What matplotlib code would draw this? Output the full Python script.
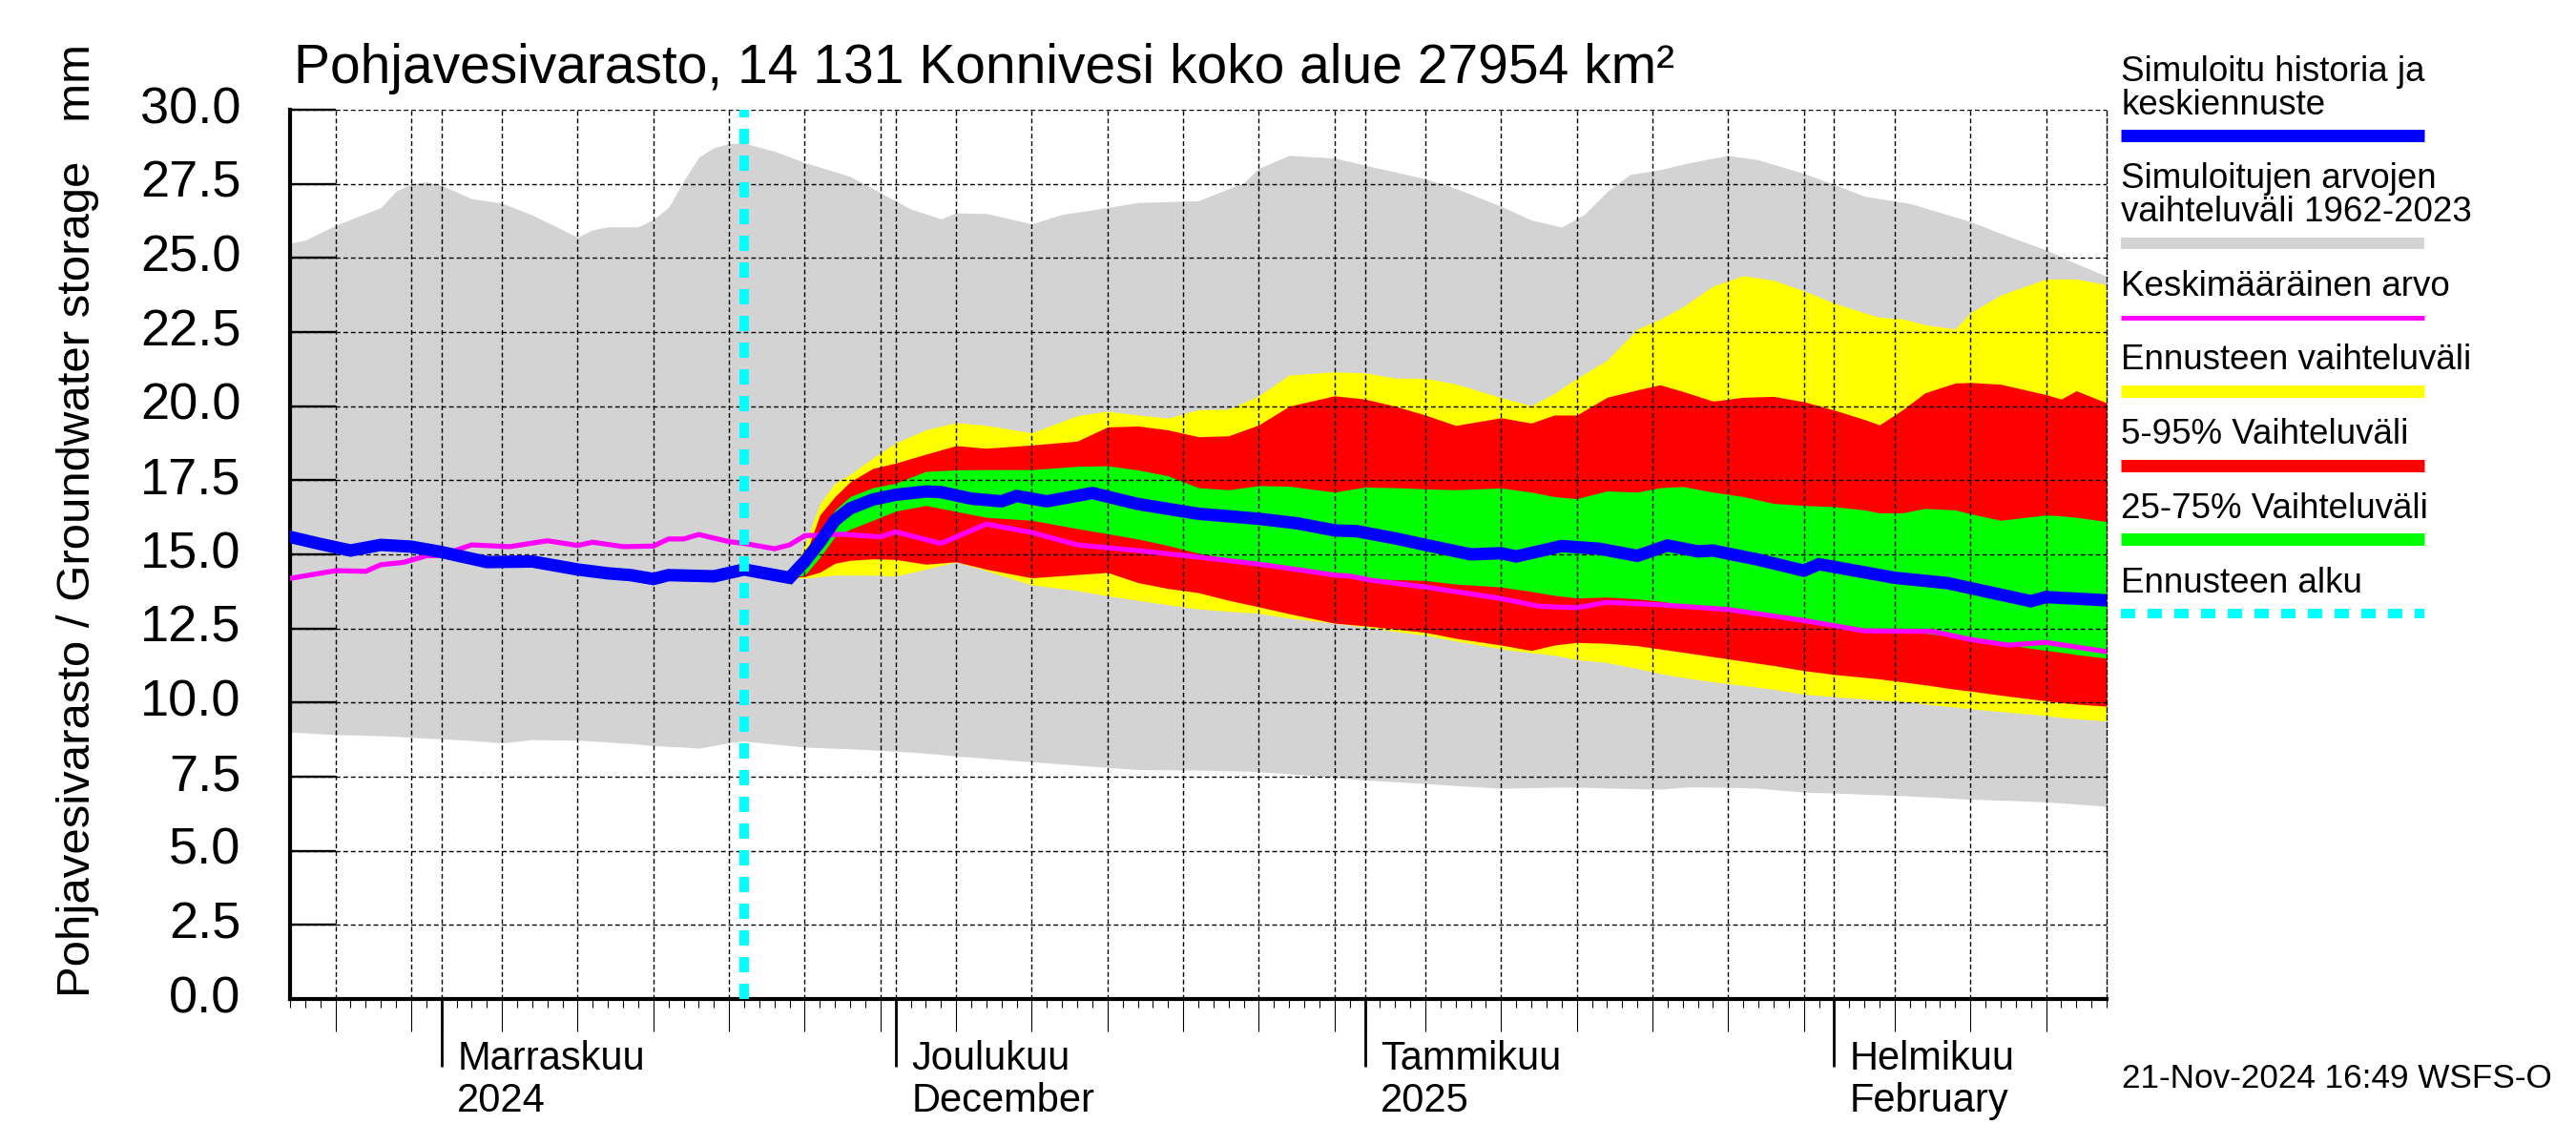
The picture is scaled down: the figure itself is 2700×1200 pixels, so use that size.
import numpy as np
import matplotlib
matplotlib.use('Agg')
import matplotlib.pyplot as plt
import matplotlib.dates as mdates
import matplotlib.transforms as mtransforms
from matplotlib.lines import Line2D
import datetime as dt

plt.rcParams['font.family'] = ['Liberation Sans', 'DejaVu Sans']

# x values are days counted from 22.10.2024
START = dt.date(2024, 10, 22)
LAST_DAY = 120
FORECAST_START = 30  # 21.11.2024

# simuloitujen arvojen vaihteluväli 1962-2023 (grey band)
range_days = [0, 1, 3, 5, 6, 7, 8, 9, 10, 12, 14, 16, 19, 20, 21, 23, 24, 25, 26, 27,
              28, 29, 30, 32, 34, 37, 39, 41, 43, 44, 46, 49, 51, 53, 56, 60, 63, 64, 66, 69,
              71, 75, 77, 80, 82, 84, 85.5, 87, 88.5, 90.5, 92.5, 95, 97, 100, 102, 104, 107, 111, 113.5, 116,
              118, 120]
range_hi = [25.5, 25.6, 26.1, 26.5, 26.7, 27.25, 27.5, 27.57, 27.45, 27.0, 26.85, 26.45, 25.7, 25.95, 26.05, 26.05, 26.3, 26.7, 27.6, 28.4,
            28.72, 28.86, 28.87, 28.6, 28.22, 27.75, 27.2, 26.65, 26.32, 26.52, 26.5, 26.15, 26.47, 26.62, 26.87, 26.93, 27.54, 28.03, 28.46, 28.37,
            28.13, 27.67, 27.35, 26.74, 26.28, 26.04, 26.47, 27.24, 27.81, 27.98, 28.22, 28.46, 28.31, 27.85, 27.48, 27.08, 26.84, 26.23, 25.73, 25.27,
            24.81, 24.38]
range_lo = [9.0, 8.98, 8.92, 8.9, 8.88, 8.86, 8.83, 8.8, 8.78, 8.72, 8.64, 8.75, 8.73, 8.7, 8.67, 8.6, 8.55, 8.52, 8.5, 8.46,
            8.55, 8.65, 8.7, 8.6, 8.5, 8.44, 8.39, 8.33, 8.25, 8.2, 8.12, 8.0, 7.93, 7.85, 7.74, 7.72, 7.69, 7.67, 7.6, 7.47,
            7.39, 7.27, 7.2, 7.11, 7.13, 7.15, 7.14, 7.12, 7.1, 7.08, 7.16, 7.14, 7.11, 6.98, 6.95, 6.91, 6.85, 6.74, 6.7, 6.65,
            6.58, 6.5]

# simuloitu historia ja keskiennuste (blue)
hist_days = [0, 2, 4, 6, 8, 10, 13, 16, 19, 21, 22.5, 24, 25, 28, 30, 33, 34, 35, 36, 37,
             38.5, 40, 42, 43, 45, 47, 48, 50, 53, 56, 60, 64, 66.5, 69, 70.5, 73, 75, 78, 80, 81,
             84, 86.5, 89, 91, 93, 94, 97, 100, 101, 106, 109.5, 115, 116, 120]
hist_val = [15.59, 15.35, 15.13, 15.32, 15.26, 15.08, 14.74, 14.76, 14.49, 14.36, 14.3, 14.17, 14.3, 14.26, 14.49, 14.21, 14.76, 15.41, 16.15, 16.55,
            16.85, 17.01, 17.12, 17.1, 16.88, 16.79, 16.97, 16.79, 17.07, 16.7, 16.37, 16.2, 16.05, 15.81, 15.78, 15.54, 15.32, 15.0, 15.04, 14.93,
            15.28, 15.19, 14.95, 15.3, 15.1, 15.13, 14.82, 14.45, 14.67, 14.21, 14.03, 13.42, 13.56, 13.45]

# keskimääräinen arvo (magenta)
mean_days = [0, 3, 5, 6, 7.5, 9, 10, 12, 14.5, 17, 19, 20, 22, 24, 25, 26, 27, 29, 30, 32,
             33, 34, 36.5, 39, 40, 43, 46, 49, 52, 56, 60, 64, 66.5, 69, 70, 71.5, 75, 80, 82.5, 85,
             87, 90.5, 95, 100, 104, 108.5, 111, 113.5, 116, 120]
mean_val = [14.19, 14.45, 14.43, 14.65, 14.73, 14.95, 14.97, 15.32, 15.26, 15.46, 15.3, 15.41, 15.26, 15.28, 15.52, 15.52, 15.67, 15.43, 15.37, 15.19,
            15.32, 15.63, 15.68, 15.59, 15.76, 15.37, 16.02, 15.74, 15.32, 15.13, 14.91, 14.67, 14.49, 14.3, 14.27, 14.12, 13.9, 13.51, 13.25, 13.2,
            13.38, 13.3, 13.14, 12.77, 12.42, 12.4, 12.13, 11.94, 12.03, 11.72]

# ennusteen vaihteluvälit
fc_days = [33, 34, 35, 36, 37, 38.5, 40, 42, 44, 46, 49, 52, 54, 56, 58, 60, 62, 64, 66, 69,
           71, 73, 75, 77, 80, 82, 83.5, 85, 87, 89, 90.5, 92, 94, 96, 98, 100, 102, 104, 105, 106.5,
           108, 110, 111, 113, 116, 117, 118, 120]
fc_max = [14.21, 15.3, 16.7, 17.4, 17.7, 18.25, 18.76, 19.2, 19.45, 19.35, 19.1, 19.68, 19.83, 19.7, 19.6, 19.88, 19.9, 20.35, 21.05, 21.16,
          21.12, 20.95, 20.94, 20.75, 20.29, 20.02, 20.42, 20.94, 21.55, 22.6, 22.93, 23.35, 24.05, 24.4, 24.25, 23.89, 23.48, 23.15, 23.0, 22.95,
          22.75, 22.6, 23.15, 23.75, 24.29, 24.29, 24.29, 24.1]
fc_p95 = [14.21, 14.9, 16.33, 16.95, 17.45, 17.9, 18.08, 18.38, 18.67, 18.58, 18.69, 18.82, 19.3, 19.33, 19.2, 18.97, 19.0, 19.37, 20.0, 20.35,
          20.24, 20.0, 19.7, 19.35, 19.61, 19.43, 19.7, 19.7, 20.3, 20.55, 20.72, 20.5, 20.17, 20.3, 20.33, 20.15, 19.87, 19.55, 19.37, 19.87,
          20.45, 20.78, 20.8, 20.74, 20.39, 20.24, 20.52, 20.11]
fc_p75 = [14.21, 14.6, 15.7, 16.5, 16.95, 17.25, 17.4, 17.8, 17.85, 17.86, 17.86, 17.97, 17.99, 17.85, 17.65, 17.25, 17.18, 17.32, 17.3, 17.1,
          17.27, 17.25, 17.21, 17.18, 17.24, 17.1, 16.95, 16.88, 17.14, 17.1, 17.25, 17.29, 17.1, 16.95, 16.72, 16.65, 16.61, 16.5, 16.4, 16.4,
          16.55, 16.5, 16.37, 16.15, 16.33, 16.3, 16.25, 16.11]
fc_p25 = [14.21, 14.3, 14.9, 15.6, 15.85, 16.15, 16.46, 16.65, 16.45, 16.25, 16.15, 15.87, 15.7, 15.52, 15.3, 15.04, 14.85, 14.67, 14.5, 14.3,
          14.17, 14.15, 14.12, 14.0, 13.9, 13.75, 13.62, 13.53, 13.56, 13.5, 13.42, 13.3, 13.18, 13.0, 12.88, 12.74, 12.6, 12.48, 12.42, 12.36,
          12.34, 12.22, 12.13, 11.98, 11.76, 11.7, 11.62, 11.5]
fc_p5 = [14.21, 14.25, 14.4, 14.7, 14.8, 14.85, 14.83, 14.67, 14.75, 14.5, 14.21, 14.32, 14.39, 14.05, 13.85, 13.71, 13.45, 13.23, 13.0, 12.68,
         12.59, 12.48, 12.37, 12.17, 11.94, 11.76, 11.94, 12.03, 12.0, 11.92, 11.81, 11.7, 11.55, 11.4, 11.25, 11.08, 10.95, 10.85, 10.8, 10.7,
         10.6, 10.45, 10.39, 10.25, 10.06, 10.0, 9.95, 9.88]
fc_min = [14.21, 14.2, 14.25, 14.3, 14.3, 14.3, 14.27, 14.5, 14.75, 14.45, 13.97, 13.78, 13.6, 13.45, 13.3, 13.16, 13.08, 13.01, 12.85, 12.68,
          12.55, 12.4, 12.27, 12.08, 11.81, 11.68, 11.6, 11.45, 11.35, 11.15, 10.98, 10.85, 10.7, 10.58, 10.45, 10.28, 10.2, 10.12, 10.08, 10.04,
          9.95, 9.85, 9.79, 9.7, 9.56, 9.5, 9.45, 9.38]

# month labels under the x axis
month_dates = [dt.date(2024, 11, 1), dt.date(2024, 12, 1), dt.date(2025, 1, 1), dt.date(2025, 2, 1)]
month_fi = ['Marraskuu', 'Joulukuu', 'Tammikuu', 'Helmikuu']
month_sub = ['2024', 'December', '2025', 'February']

# legend entries
legend_labels = [['Simuloitu historia ja', 'keskiennuste'],
                 ['Simuloitujen arvojen', 'vaihteluväli 1962-2023'],
                 ['Keskimääräinen arvo'],
                 ['Ennusteen vaihteluväli'],
                 ['5-95% Vaihteluväli'],
                 ['25-75% Vaihteluväli'],
                 ['Ennusteen alku']]

C_RANGE = '#d3d3d3'
C_YELLOW = '#ffff00'
C_RED = '#ff0000'
C_GREEN = '#00ff00'
C_BLUE = '#0000ff'
C_MAG = '#ff00ff'
C_CYAN = '#00ffff'
GRID_LS = (0, (3.5, 2.2))

W, H = 2700, 1200


def to_x(days):
    return mdates.date2num(START) + np.asarray(days, dtype=float)


def fy(py):
    # pixel row -> figure fraction
    return 1 - py / H


def main():
    fig = plt.figure(figsize=(27, 12), dpi=100)
    ax = fig.add_axes([304 / W, fy(1047), (2208 - 304) / W, (1047 - 115) / H])

    # bands
    ax.fill_between(to_x(range_days), range_lo, range_hi, color=C_RANGE, lw=0, zorder=1)
    ax.fill_between(to_x(fc_days), fc_min, fc_max, color=C_YELLOW, lw=0, zorder=1.1)
    ax.fill_between(to_x(fc_days), fc_p5, fc_p95, color=C_RED, lw=0, zorder=1.2)
    ax.fill_between(to_x(fc_days), fc_p25, fc_p75, color=C_GREEN, lw=0, zorder=1.3)

    # lines
    ax.plot(to_x(mean_days), mean_val, color=C_MAG, lw=3.8, zorder=3)
    ax.plot(to_x(hist_days), hist_val, color=C_BLUE, lw=9.4, zorder=4, solid_joinstyle='miter')
    ax.axvline(to_x([FORECAST_START])[0], color=C_CYAN, lw=7.2, dashes=(1.6, 1.2), zorder=5)

    ax.set_xlim(to_x([0])[0], to_x([LAST_DAY])[0])
    ax.set_ylim(0, 30)

    # y axis
    ax.set_yticks(np.arange(0, 30.01, 2.5))
    ax.set_yticklabels(['%.1f' % v for v in np.arange(0, 30.01, 2.5)])
    ax.tick_params(axis='y', direction='in', length=34.5, width=1.7, pad=37, labelsize=39)
    for lab in ax.get_yticklabels():
        lab.set_va('center')

    # x axis: grid days, daily ticks and long month ticks
    ax.xaxis.set_major_locator(mdates.DayLocator(bymonthday=[1, 5, 10, 15, 20, 25, 30]))
    ax.xaxis.set_minor_locator(mdates.DayLocator())
    ax.xaxis.set_major_formatter(plt.NullFormatter())
    ax.tick_params(axis='x', which='major', direction='out', length=24.5, width=0.8, labelbottom=False)
    ax.tick_params(axis='x', which='minor', direction='out', length=6.5, width=0.8)

    sec = ax.secondary_xaxis('bottom')
    sec.xaxis.set_major_locator(mdates.MonthLocator())
    sec.xaxis.set_minor_locator(plt.NullLocator())
    sec.tick_params(axis='x', which='major', direction='out', length=51, width=2, labelbottom=False)
    sec.spines['bottom'].set_visible(False)

    ax.grid(True, which='major', axis='both', color='black', linestyle=GRID_LS, linewidth=1.0)

    for side in ['left', 'bottom']:
        ax.spines[side].set_linewidth(3)
    ax.spines['top'].set_visible(False)
    ax.spines['right'].set_linestyle(GRID_LS)
    ax.spines['right'].set_linewidth(1.0)

    # month names
    trans = mtransforms.blended_transform_factory(ax.transData, ax.transAxes)
    trans = mtransforms.offset_copy(trans, fig=fig, x=12, y=0, units='points')
    for d, fi, sub in zip(month_dates, month_fi, month_sub):
        xm = mdates.date2num(d)
        ax.text(xm, (1047 - 1121) / 932, fi, transform=trans, fontsize=30,
                ha='left', va='baseline', clip_on=False)
        ax.text(xm, (1047 - 1165) / 932, sub, transform=trans, fontsize=30,
                ha='left', va='baseline', clip_on=False)

    # title and axis label
    fig.text(308 / W, fy(87), 'Pohjavesivarasto, 14 131 Konnivesi koko alue 27954 km²',
             fontsize=41, ha='left', va='baseline')
    fig.text(82 / W, fy(1045), 'Pohjavesivarasto / Groundwater storage   mm',
             fontsize=35.4, rotation=90, ha='center', va='bottom')
    fig.text(2224 / W, fy(1140), '21-Nov-2024 16:49 WSFS-O', fontsize=25.3,
             ha='left', va='baseline')

    # legend drawn by hand at the right
    text_rows = [[85, 120], [197, 232], [310], [387], [465], [543], [621]]
    bar_rows = [141.5, 255, 332.5, 410, 487.5, 565, 643]
    bar_styles = [dict(color=C_BLUE, lw=9.4),
                  dict(color=C_RANGE, lw=8.6),
                  dict(color=C_MAG, lw=3.6),
                  dict(color=C_YELLOW, lw=9.4),
                  dict(color=C_RED, lw=9.4),
                  dict(color=C_GREEN, lw=9.4),
                  dict(color=C_CYAN, lw=7.2, dashes=(1.5, 1.3))]
    x0, x1 = 2223 / W, 2541 / W
    for lines, rows, yb, style in zip(legend_labels, text_rows, bar_rows, bar_styles):
        for txt, yr in zip(lines, rows):
            fig.text(x0, fy(yr), txt, fontsize=26.5, ha='left', va='baseline')
        fig.add_artist(Line2D([x0, x1], [fy(yb), fy(yb)], transform=fig.transFigure,
                              solid_capstyle='butt', dash_capstyle='butt', **style))

    fig.savefig('out.png', dpi=100)


if __name__ == "__main__":
    main()
